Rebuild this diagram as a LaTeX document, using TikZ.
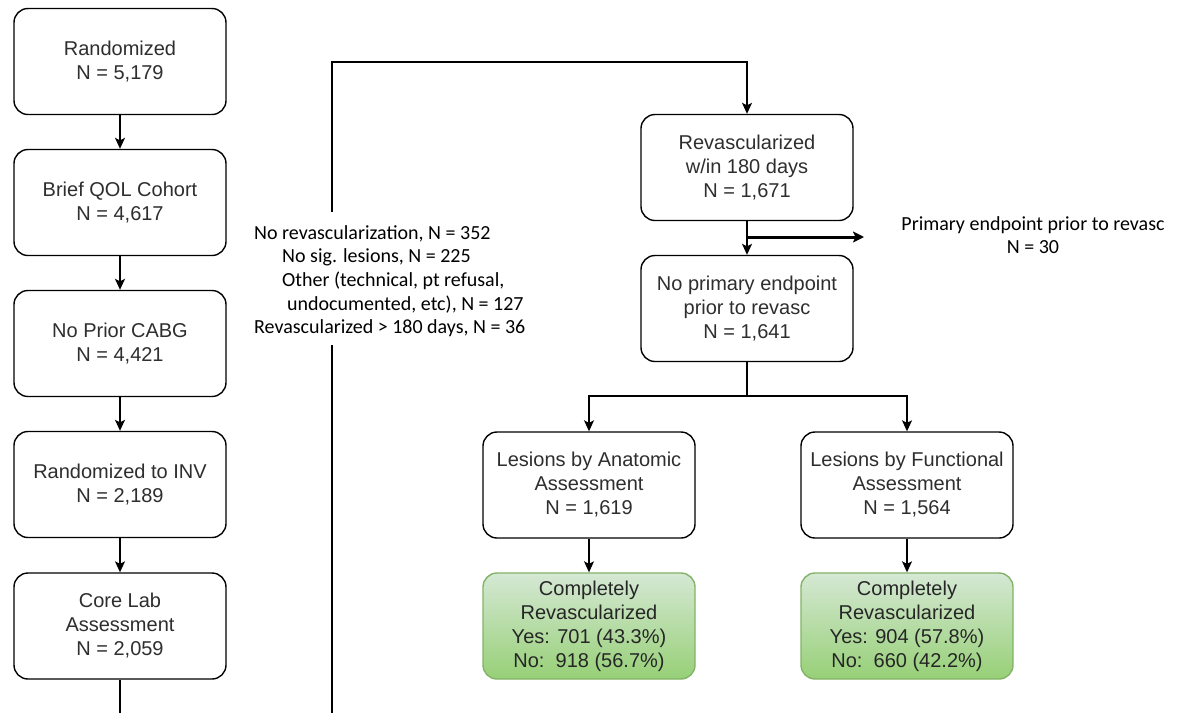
\documentclass[tikz,border=0pt]{standalone}
\usepackage{fontspec}
\setmainfont{Liberation Sans}
\newfontfamily\calib{Carlito}
\usetikzlibrary{arrows.meta}
\definecolor{txtgray}{HTML}{2E2E2E}
\definecolor{gtop}{HTML}{D5E8D4}
\definecolor{gbot}{HTML}{97D077}
\definecolor{gborder}{HTML}{82B366}
\begin{document}
\begin{tikzpicture}[x=1pt,y=-1pt,
 box/.style={draw=black, line width=1.4pt, rounded corners=14pt, minimum width=212pt, minimum height=106pt, inner sep=2pt, align=center, text=txtgray, font=\fontsize{20}{24}\selectfont, fill=white},
 greenbox/.style={box, draw=gborder, top color=gtop, bottom color=gbot, text=black!85},
 arr/.style={-{Stealth[length=11pt,width=10pt,inset=2.5pt]}, line width=1.4pt},
 ln/.style={line width=1.4pt},
 note/.style={font=\calib\fontsize{20}{23.7}\selectfont, inner sep=0pt, text=black}
]
\useasboundingbox (0,0) rectangle (1177,713);
% left column
\node[box] (rand) at (120,61.5) {Randomized\\N = 5,179};
\node[box] (qol) at (120,202.5) {Brief QOL Cohort\\N = 4,617};
\node[box] (cabg) at (120,343.5) {No Prior CABG\\N = 4,421};
\node[box] (inv) at (120,484.5) {Randomized to INV\\N = 2,189};
\node[box] (core) at (120,626) {Core Lab\\Assessment\\N = 2,059};
% right part
\node[box] (rev) at (747,167.5) {Revascularized\\w/in 180 days\\N = 1,671};
\node[box] (noprim) at (747,308.5) {No primary endpoint\\prior to revasc\\N = 1,641};
\node[box] (anat) at (589,485) {Lesions by Anatomic\\Assessment\\N = 1,619};
\node[box] (func) at (907,485) {Lesions by Functional\\Assessment\\N = 1,564};
\node[greenbox] (ganat) at (589,626) {Completely\\Revascularized\\Yes: 701 (43.3\%)\\No:\ \ 918 (56.7\%)};
\node[greenbox] (gfunc) at (907,626) {Completely\\Revascularized\\Yes: 904 (57.8\%)\\No:\ \ 660 (42.2\%)};
% notes
\node[note, anchor=north west, align=left] (excl) at (254,225) {No revascularization, N = 352\\
\hspace*{28pt}No sig. lesions, N = 225\\
\hspace*{28pt}Other (technical, pt refusal,\\
\hspace*{33pt}undocumented, etc), N = 127\\
Revascularized > 180 days, N = 36};
\node[note, align=center] (prim) at (1033,235) {Primary endpoint prior to revasc\\N = 30};
% coordinates
\coordinate (lbot) at (120,713);
\coordinate (vbot) at (332,713);
\coordinate (vgaplo) at (332,345);
\coordinate (vgaphi) at (332,212);
\coordinate (vtop) at (332,62);
\coordinate (htop) at (747,62);
\coordinate (brk) at (747,237);
\coordinate (brkend) at (864,237);
\coordinate (split) at (747,396);
\coordinate (splitl) at (589,396);
\coordinate (splitr) at (907,396);
% connectors
\draw[arr] (rand) -- (qol);
\draw[arr] (qol) -- (cabg);
\draw[arr] (cabg) -- (inv);
\draw[arr] (inv) -- (core);
\draw[ln] (core) -- (lbot);
\draw[ln] (vbot) -- (vgaplo);
\draw[arr] (vgaphi) -- (vtop) -- (htop) -- (rev);
\draw[arr] (rev) -- (noprim);
\draw[-{Stealth[length=11pt,width=11pt,inset=2.5pt]}, line width=3pt] (brk) -- (brkend);
\draw[ln] (noprim) -- (split);
\draw[arr] (split) -- (splitl) -- (anat);
\draw[arr] (split) -- (splitr) -- (func);
\draw[arr] (anat) -- (ganat);
\draw[arr] (func) -- (gfunc);
\end{tikzpicture}
\end{document}
